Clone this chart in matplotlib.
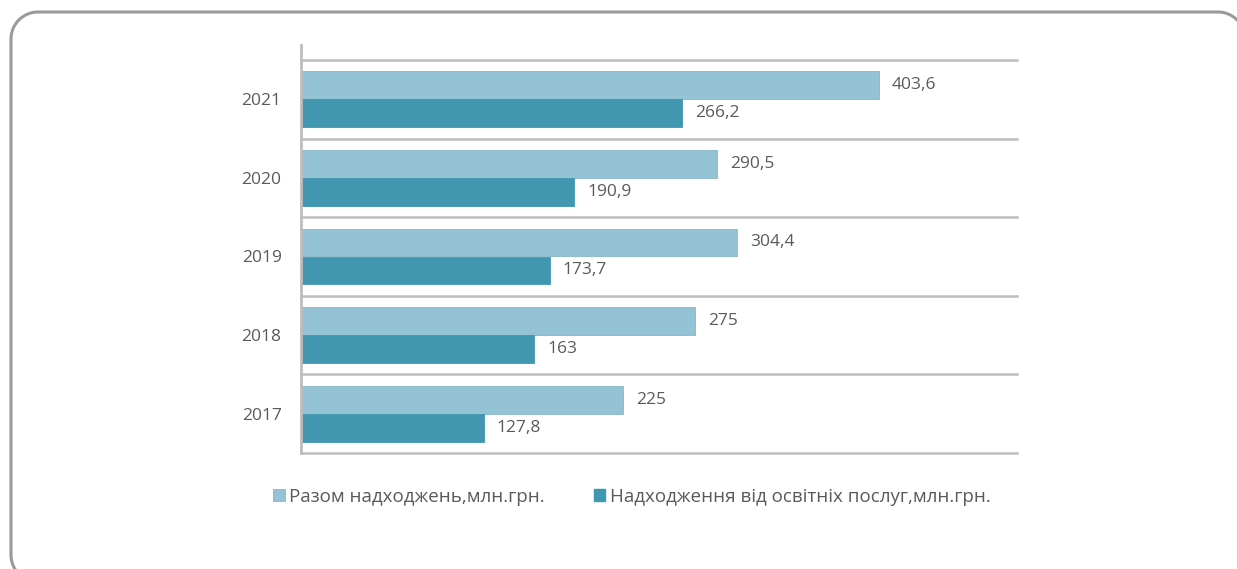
import matplotlib
matplotlib.use('Agg')
import matplotlib.pyplot as plt
from matplotlib.lines import Line2D
from matplotlib.patches import Patch
from matplotlib.transforms import IdentityTransform
import numpy as np

# data
years = ['2017', '2018', '2019', '2020', '2021']
total_income = [225, 275, 304.4, 290.5, 403.6]
edu_income = [127.8, 163, 173.7, 190.9, 266.2]
series_names = ['Разом надходжень,млн.грн.',
                'Надходження від освітніх послуг,млн.грн.']

light = '#93c3d5'
dark = '#4297b0'
grid_col = '#bdbdbd'
text_col = '#5a5a5a'

plt.rcParams['font.family'] = ['Open Sans', 'DejaVu Sans']

fig = plt.figure(figsize=(12.37, 5.69), dpi=100)
W, H = 1237, 569


def rounded_frame(x0, y0, x1, y1, r, n=20):
    # outline in pixel coords (y down), corners built from short segments
    t = np.linspace(0, np.pi / 2, n)
    xs, ys = [], []
    for cx, cy, a0 in [(x0 + r, y1 - r, np.pi / 2), (x0 + r, y0 + r, np.pi),
                       (x1 - r, y0 + r, 1.5 * np.pi), (x1 - r, y1 - r, 0)]:
        a = a0 + t
        xs += list(cx + r * np.cos(a))
        ys += list(cy + r * np.sin(a))
    xs.append(xs[0])
    ys.append(ys[0])
    return np.array(xs), H - np.array(ys)


# frame runs off the right and bottom edges like in the original
fx, fy = rounded_frame(11, 12, 1245, 582, 27)
fig.add_artist(Line2D(fx, fy, transform=IdentityTransform(),
                      color='#9a9a9a', linewidth=2.2))

ax = fig.add_axes([301 / W, 1 - 453 / H, (1017 - 301) / W, (453 - 45) / H])

y = np.arange(len(years))
h = 0.355
off = 0.178
ax.barh(y + off, total_income, height=h, color=light, edgecolor='#86b6c7', linewidth=0.6)
ax.barh(y - off, edu_income, height=h, color=dark, edgecolor=dark, linewidth=0.6)

def fmt(v):
    s = ('%g' % v)
    return s.replace('.', ',')

for yi, v in zip(y, total_income):
    ax.text(v + 9, yi + off, fmt(v), va='center', ha='left', fontsize=12.5, color=text_col)
for yi, v in zip(y, edu_income):
    ax.text(v + 9, yi - off, fmt(v), va='center', ha='left', fontsize=12.5, color=text_col)

ax.set_xlim(0, 500)
ax.set_ylim(-0.5, 4.69)

# horizontal separators between the years
for b in np.arange(-0.5, len(years), 1.0):
    ax.axhline(b, color=grid_col, linewidth=1.8, zorder=0, clip_on=False)

for s in ['top', 'right', 'bottom']:
    ax.spines[s].set_visible(False)
ax.spines['left'].set_color(grid_col)
ax.spines['left'].set_linewidth(2)

ax.set_xticks([])
ax.set_yticks(y)
ax.set_yticklabels(years, fontsize=12.5, color=text_col)
ax.tick_params(axis='y', length=0, pad=14)

handles = [Patch(facecolor=light, edgecolor='#86b6c7', linewidth=0.6),
           Patch(facecolor=dark, edgecolor=dark)]
fig.legend(handles, series_names, loc='center left',
           bbox_to_anchor=(273 / W, 1 - 497 / H), ncol=2, frameon=False,
           fontsize=13.5, handlelength=0.62, handleheight=0.62, handletextpad=0.25,
           columnspacing=2.6, borderpad=0, borderaxespad=0, labelcolor=text_col)

fig.savefig('out.png', dpi=100)
